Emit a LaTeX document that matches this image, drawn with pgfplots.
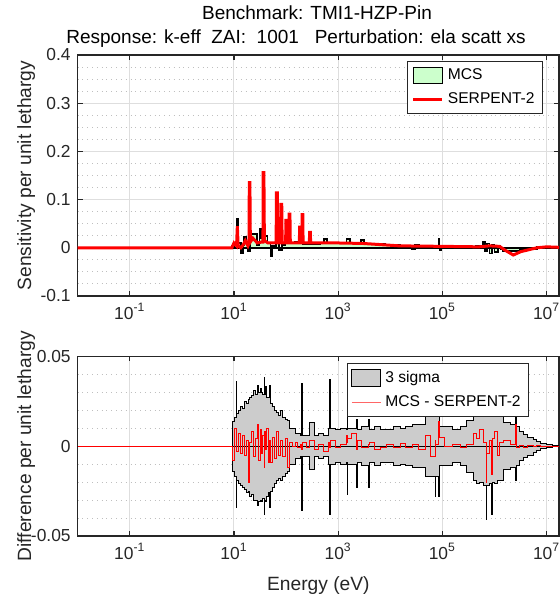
\documentclass[border=0pt]{standalone}
\usepackage{fontspec}
\setmainfont{Liberation Sans}
\usepackage{pgfplots}
\usepackage{pgfplotstable}
\pgfplotsset{compat=1.18}

\definecolor{mcsgreen}{rgb}{0.8,1,0.8}
\definecolor{sigfill}{rgb}{0.8,0.8,0.8}
\definecolor{axgray}{rgb}{0.15,0.15,0.15}

% MCS sensitivity (group-wise, lower bin edge)
\pgfplotstableread{
E v
0.01 0
9.0 0.004
10.23 0.008
11.5 0.059
11.9 0.010
13.5 -0.011
14.8 0.006
15.6 0.022
17.4 0.008
18.6 -0.006
20.3 0.028
27.5 0.005
31.0 0.040
32.5 0.020
36.0 0.024
44.0 0.010
50.1 -0.017
54.0 0.003
63.0 0.010
72.0 -0.005
83.0 0.005
95.0 0.009
150 0.012
190 0.016
210 0.008
450 0.011
530 0.019
620 0.009
1450 0.018
1700 0.009
2700 0.017
3100 0.008
8000 0.006
15500 0.003
26000 -0.003
30000 0.006
36000 0.003
85000 0.019
88000 -0.005
95000 0.002
440000 0.004
500000 0.002
600000 0.012
660000 -0.006
720000 0.009
800000 -0.012
900000 0.006
1000000 -0.008
1150000 0.004
1300000 -0.003
1450000 -0.006
3100000 -0.003
6500000 0.001
17330000 0
}\mcsdata

% SERPENT-2 sensitivity
\pgfplotstableread{
E v
0.01 0
9.1 0
10.0 0.010
11.2 0.004
11.6 0.045
12.0 0.004
13.5 0.0
15.0 0.006
16.5 0.015
18.5 0.004
19.4 0.010
19.7 0.135
20.2 0.135
20.6 0.012
23.0 0.020
28.0 0.010
34.0 0.012
36.0 0.012
36.3 0.156
37.5 0.156
38.3 0.015
45.0 0.010
64.5 0.010
65.2 0.114
68.0 0.114
68.7 0.010
78.0 0.010
79.5 0.090
82.5 0.090
84.0 0.010
98.0 0.010
99.5 0.057
102 0.057
104 0.010
113 0.010
114.5 0.070
118.5 0.070
120.5 0.010
180 0.010
182 0.043
186 0.043
190 0.010
201 0.010
203.5 0.069
209 0.069
212 0.010
280 0.010
283 0.032
292 0.032
296 0.010
1000 0.010
3000 0.009
15000 0.004
100000 0.003
500000 0.002
800000 0.004
1250000 0.003
1600000 -0.005
2300000 -0.015
3200000 -0.008
6500000 0
10000000 0.002
17330000 0.001
}\serpdata

% 3 sigma envelope (up, lo) and MCS - SERPENT-2 difference (d)
\pgfplotstableread{
E up lo d
0.01 0 0 0
9.33 0.0135 -0.0143 -0.008
10.23 0.016 -0.017 0.010
10.96 0.036 -0.034 0.004
11.35 0.018 -0.019 -0.003
12.30 0.020 -0.021 0.007
13.49 0.022 -0.022 -0.004
14.79 0.021 -0.023 0.006
16.22 0.025 -0.024 -0.005
17.38 0.024 -0.026 0.003
19.05 0.026 -0.025 -0.020
19.95 0.027 -0.028 0.002
21.88 0.028 -0.027 0.008
23.99 0.031 -0.030 -0.006
26.30 0.029 -0.030 0.004
28.18 0.034 -0.033 0.012
29.51 0.030 -0.031 -0.008
31.62 0.032 -0.030 0.009
33.88 0.030 -0.031 -0.004
35.08 0.029 -0.029 0.006
38.02 0.038 -0.038 -0.012
39.36 0.029 -0.030 0.008
40.74 0.033 -0.031 -0.002
42.17 0.027 -0.028 0.010
45.71 0.027 -0.026 -0.009
48.98 0.034 -0.034 0.003
50.70 0.024 -0.025 -0.009
54.95 0.022 -0.023 0.005
60.26 0.020 -0.021 -0.007
66.07 0.019 -0.019 0.008
72.44 0.017 -0.018 -0.005
79.43 0.020 -0.019 0.003
87.10 0.016 -0.017 -0.006
95.50 0.015 -0.015 0.004
107.2 0.014 -0.014 -0.012
117.5 0.010 -0.010 0.002
131.8 0.010 -0.010 0.000
151.4 0.007 -0.007 0.002
166.0 0.007 -0.007 -0.001
186.2 0.006 -0.006 0.001
199.5 0.035 -0.036 -0.002
206.5 0.006 -0.006 0.002
251.2 0.006 -0.006 -0.001
281.8 0.013 -0.013 0.003
354.8 0.006 -0.006 -0.002
426.6 0.007 -0.007 0.001
524.8 0.006 -0.006 -0.003
645.7 0.010 -0.010 0.002
676.1 0.037 -0.038 -0.001
699.8 0.010 -0.010 0.003
891.3 0.009 -0.009 -0.001
1122 0.010 -0.010 0.001
1413 0.009 -0.009 0.006
1479 0.018 -0.027 0.002
1531 0.010 -0.010 0.004
1778 0.010 -0.010 0.007
2291 0.015 -0.023 -0.002
2371 0.009 -0.009 0.003
2818 0.011 -0.011 -0.001
3802 0.015 -0.023 0.001
3936 0.009 -0.009 0.002
5012 0.011 -0.011 -0.002
6457 0.009 -0.009 -0.001
8511 0.009 -0.009 0.001
11482 0.011 -0.011 -0.001
15488 0.010 -0.010 0.0015
19953 0.011 -0.011 -0.001
26303 0.012 -0.012 0.001
35481 0.012 -0.012 -0.002
46774 0.017 -0.017 0.006
58884 0.017 -0.017 -0.006
72444 0.020 -0.028 0.003
74989 0.017 -0.017 0.001
85114 0.020 -0.028 0.0135
88105 0.011 -0.011 0.005
112202 0.011 -0.011 0.000
158489 0.009 -0.009 0.001
223872 0.011 -0.011 -0.001
295121 0.0145 -0.0145 0.001
389045 0.019 -0.019 0.007
457088 0.021 -0.021 0.004
524807 0.020 -0.020 0.009
602560 0.023 -0.022 0.002
691831 0.024 -0.041 -0.020
716143 0.022 -0.022 -0.004
794328 0.021 -0.021 0.003
870964 0.022 -0.038 -0.016
901571 0.020 -0.020 0.004
1000000 0.022 -0.021 0.008
1122018 0.019 -0.019 -0.005
1258925 0.020 -0.019 0.002
1479108 0.013 -0.013 0.003
1995262 0.012 -0.012 0.001
2511886 0.016 -0.019 0.012
2600160 0.011 -0.011 0.001
2691535 0.011 -0.011 -0.001
3090295 0.008 -0.008 0.0005
3630781 0.0065 -0.0065 -0.0005
4265795 0.005 -0.005 0.0003
5495409 0.0035 -0.0035 0
6456542 0.0025 -0.0025 0.0002
7585776 0.0015 -0.0015 0
9772372 0.0008 -0.0008 0
12882496 0.0003 -0.0003 0
17330000 0.0003 -0.0003 0
}\diffdata

\begin{document}
\begin{tikzpicture}
\useasboundingbox (0,0) rectangle (280pt,299.5pt);

% two-line title
\node[anchor=base, inner sep=0pt, font=\fontsize{9.5}{11}\selectfont]
  at (158.5pt,289.7pt) {Benchmark: TMI1-HZP-Pin};
\node[anchor=base, inner sep=0pt, font=\fontsize{9.5}{11}\selectfont]
  at (148pt,277.7pt) {Response: k-eff\ \ ZAI:\ \ 1001\ \ \ Perturbation: ela scatt xs};

\begin{axis}[
  scale only axis, width=240.65pt, height=120.5pt,
  at={(38.85pt,151.5pt)}, anchor=south west,
  xmode=log, xmin=1e-2, xmax=1.733e7,
  xtick={1e-1,1e1,1e3,1e5,1e7},
  xticklabels={10\textsuperscript{-1},10\textsuperscript{1},10\textsuperscript{3},10\textsuperscript{5},10\textsuperscript{7}},
  minor x tick num=0,
  ymin=-0.1, ymax=0.4, ytick={-0.1,0,0.1,0.2,0.3,0.4}, minor y tick num=3,
  scaled y ticks=false,
  tick align=inside, major tick length=2.5pt, minor tick length=0pt,
  xmajorgrids, ymajorgrids, yminorgrids,
  major grid style={black!13, line width=0.5pt},
  minor grid style={black!25, dotted, line width=0.5pt},
  axis line style={axgray, line width=0.6pt},
  tick style={axgray, line width=0.6pt},
  ticklabel style={font=\fontsize{8.7}{10}\selectfont, text=axgray},
  yticklabel style={/pgf/number format/fixed, /pgf/number format/assume math mode=true},
  ylabel={Sensitivity per unit lethargy},
  ylabel style={at={(axis description cs:-0.107,0.5)}, anchor=center, font=\fontsize{9.6}{11}\selectfont, text=axgray},
  legend cell align=left,
  legend style={font=\fontsize{7.8}{9}\selectfont, draw=axgray, line width=0.5pt,
    fill=white, inner xsep=2pt, inner ysep=1.5pt, row sep=1.2pt,
    at={(0.967,0.975)}, anchor=north east},
]
\addplot[const plot mark left, fill=mcsgreen, draw=black, line width=0.9pt,
  legend image code/.code={\draw[fill=mcsgreen, draw=black, line width=0.5pt] (0pt,-4pt) rectangle (14.5pt,4pt);}]
  table[x=E, y=v] {\mcsdata} \closedcycle;
\addlegendentry{MCS}
\addplot[red, line width=1.5pt,
  legend image code/.code={\draw[red, line width=1.5pt] (0pt,0pt) -- (14.5pt,0pt);}]
  table[x=E, y=v] {\serpdata};
\addlegendentry{SERPENT-2}
\end{axis}

\begin{axis}[
  scale only axis, width=240.65pt, height=89.85pt,
  at={(38.85pt,31.5pt)}, anchor=south west,
  xmode=log, xmin=1e-2, xmax=1.733e7,
  xtick={1e-1,1e1,1e3,1e5,1e7},
  xticklabels={10\textsuperscript{-1},10\textsuperscript{1},10\textsuperscript{3},10\textsuperscript{5},10\textsuperscript{7}},
  minor x tick num=0,
  ymin=-0.05, ymax=0.05, ytick={-0.05,0,0.05}, minor y tick num=4,
  scaled y ticks=false,
  tick align=inside, major tick length=2.5pt, minor tick length=0pt,
  xmajorgrids, ymajorgrids, yminorgrids,
  major grid style={black!13, line width=0.5pt},
  minor grid style={black!25, dotted, line width=0.5pt},
  axis line style={axgray, line width=0.6pt},
  tick style={axgray, line width=0.6pt},
  ticklabel style={font=\fontsize{8.7}{10}\selectfont, text=axgray},
  yticklabel style={/pgf/number format/fixed, /pgf/number format/precision=2, /pgf/number format/assume math mode=true},
  ylabel={Difference per unit lethargy},
  ylabel style={at={(axis description cs:-0.107,0.5)}, anchor=center, font=\fontsize{9.6}{11}\selectfont, text=axgray},
  xlabel={Energy (eV)},
  xlabel style={at={(axis description cs:0.5,-0.273)}, anchor=center, font=\fontsize{9.6}{11}\selectfont, text=axgray},
  legend cell align=left,
  legend style={font=\fontsize{7.8}{9}\selectfont, draw=axgray, line width=0.5pt,
    fill=white, inner xsep=2pt, inner ysep=1.5pt, row sep=1.2pt,
    at={(0.938,0.961)}, anchor=north east},
]
\addplot[const plot mark left, fill=sigfill, draw=black, line width=0.5pt,
  legend image code/.code={\draw[fill=sigfill, draw=black, line width=0.5pt] (0pt,-4.2pt) rectangle (14.5pt,4.2pt);}]
  table[x=E, y=up] {\diffdata} \closedcycle;
\addlegendentry{3 sigma}
\addplot[const plot mark left, fill=sigfill, draw=black, line width=0.5pt, forget plot]
  table[x=E, y=lo] {\diffdata} \closedcycle;
\addplot[const plot mark left, red, line width=0.5pt,
  legend image code/.code={\draw[red!60, line width=0.6pt] (0pt,0pt) -- (14.5pt,0pt);}]
  table[x=E, y=d] {\diffdata};
\addlegendentry{MCS - SERPENT-2}
\end{axis}
\end{tikzpicture}
\end{document}
